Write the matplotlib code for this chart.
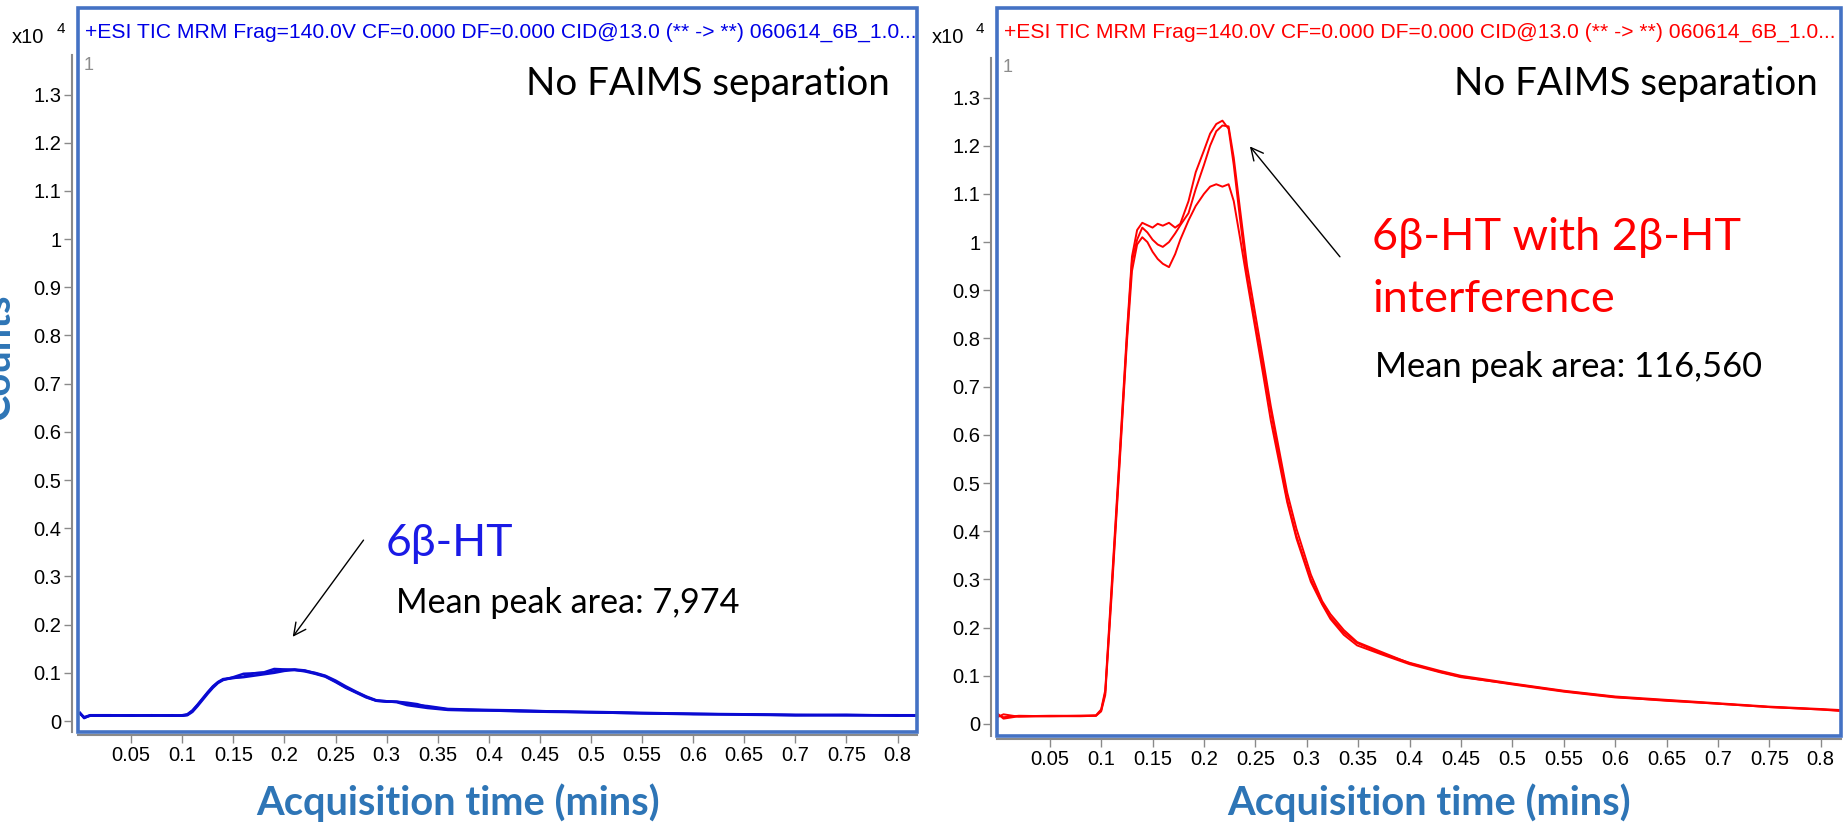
import numpy as np
import matplotlib
matplotlib.use("Agg")
import matplotlib.pyplot as plt
from matplotlib.patches import Rectangle

#####################################################################################################################
# Data (counts x10^4) - three replicate injections each
blue_t = [0.0, 0.004, 0.01, 0.03, 0.05, 0.07, 0.09,
          0.1, 0.105, 0.11, 0.115, 0.12, 0.125, 0.13, 0.135, 0.14,
          0.15, 0.16, 0.17, 0.18, 0.19, 0.2, 0.21, 0.22, 0.23, 0.24, 0.25, 0.26, 0.27, 0.28, 0.29, 0.3,
          0.31, 0.32, 0.33, 0.34,
          0.36, 0.38, 0.4, 0.43, 0.46, 0.5,
          0.55, 0.6, 0.65, 0.7, 0.75, 0.8, 0.818]
blue_a = [0.016, 0.006, 0.012, 0.012, 0.011, 0.012, 0.011,
          0.011, 0.013, 0.021, 0.033, 0.046, 0.059, 0.071, 0.080, 0.086,
          0.089, 0.092, 0.099, 0.101, 0.108, 0.107, 0.106, 0.104, 0.100, 0.094, 0.084, 0.072, 0.061, 0.051, 0.043, 0.041,
          0.040, 0.036, 0.033, 0.031,
          0.025, 0.024, 0.023, 0.022, 0.020, 0.019,
          0.017, 0.015, 0.014, 0.013, 0.012, 0.012, 0.012]
blue_b = [0.017, 0.007, 0.011, 0.011, 0.012, 0.011, 0.012,
          0.011, 0.012, 0.019, 0.031, 0.044, 0.057, 0.069, 0.079, 0.085,
          0.091, 0.098, 0.099, 0.100, 0.103, 0.106, 0.107, 0.105, 0.099, 0.093, 0.082, 0.070, 0.060, 0.050, 0.042, 0.040,
          0.040, 0.038, 0.035, 0.029,
          0.024, 0.023, 0.022, 0.021, 0.020, 0.018,
          0.016, 0.015, 0.013, 0.012, 0.013, 0.011, 0.012]
blue_c = [0.015, 0.008, 0.012, 0.012, 0.011, 0.012, 0.011,
          0.012, 0.014, 0.022, 0.034, 0.047, 0.060, 0.072, 0.081, 0.087,
          0.090, 0.091, 0.094, 0.097, 0.100, 0.104, 0.106, 0.103, 0.098, 0.092, 0.081, 0.069, 0.059, 0.049, 0.042, 0.041,
          0.039, 0.033, 0.030, 0.027,
          0.023, 0.022, 0.022, 0.020, 0.019, 0.018,
          0.016, 0.014, 0.014, 0.012, 0.012, 0.012, 0.011]

red_t = [0.0, 0.005, 0.02, 0.05, 0.08, 0.095,
         0.1, 0.104, 0.11, 0.118, 0.125, 0.13, 0.135, 0.14, 0.145, 0.15,
         0.155, 0.16, 0.166, 0.172, 0.177, 0.185, 0.192, 0.2, 0.206, 0.212,
         0.218, 0.224, 0.229, 0.235, 0.242, 0.25, 0.258, 0.265, 0.273, 0.281,
         0.29, 0.304, 0.315, 0.323, 0.336, 0.349, 0.372, 0.4, 0.43, 0.45,
         0.5, 0.55, 0.6, 0.65, 0.7, 0.75, 0.8, 0.818]
red_a = [0.020, 0.011, 0.016, 0.017, 0.017, 0.018,
         0.030, 0.070, 0.280, 0.560, 0.810, 0.970, 1.025, 1.040, 1.035, 1.030,
         1.038, 1.034, 1.040, 1.030, 1.038, 1.085, 1.145, 1.190, 1.225, 1.245,
         1.252, 1.235, 1.160, 1.050, 0.930, 0.830, 0.735, 0.650, 0.555, 0.465,
         0.390, 0.300, 0.250, 0.222, 0.190, 0.168, 0.147, 0.127, 0.110, 0.100,
         0.084, 0.069, 0.057, 0.050, 0.043, 0.036, 0.031, 0.029]
red_b = [0.015, 0.020, 0.015, 0.016, 0.017, 0.017,
         0.028, 0.065, 0.270, 0.550, 0.800, 0.960, 1.005, 1.030, 1.020, 1.005,
         0.995, 0.990, 1.000, 1.018, 1.035, 1.060, 1.110, 1.160, 1.200, 1.230,
         1.242, 1.240, 1.175, 1.070, 0.950, 0.850, 0.750, 0.660, 0.570, 0.480,
         0.405, 0.310, 0.255, 0.228, 0.195, 0.170, 0.150, 0.126, 0.108, 0.098,
         0.082, 0.067, 0.055, 0.049, 0.042, 0.035, 0.030, 0.028]
red_c = [0.018, 0.014, 0.017, 0.016, 0.016, 0.017,
         0.026, 0.060, 0.260, 0.540, 0.790, 0.940, 0.995, 1.010, 1.000, 0.980,
         0.965, 0.955, 0.948, 0.975, 1.005, 1.045, 1.075, 1.100, 1.115, 1.120,
         1.115, 1.120, 1.085, 1.010, 0.920, 0.820, 0.720, 0.630, 0.545, 0.460,
         0.385, 0.295, 0.248, 0.218, 0.185, 0.163, 0.145, 0.124, 0.107, 0.097,
         0.083, 0.068, 0.056, 0.048, 0.042, 0.035, 0.030, 0.027]

x_ticks = [0.05, 0.1, 0.15, 0.2, 0.25, 0.3, 0.35, 0.4, 0.45, 0.5, 0.55, 0.6, 0.65, 0.7, 0.75, 0.8]
y_ticks = [0, 0.1, 0.2, 0.3, 0.4, 0.5, 0.6, 0.7, 0.8, 0.9, 1, 1.1, 1.2, 1.3]

header = "+ESI TIC MRM Frag=140.0V CF=0.000 DF=0.000 CID@13.0 (** -> **) 060614_6B_1.0..."

#####################################################################################################################
W, H = 1846, 824
fig = plt.figure(figsize=(W / 100, H / 100), dpi=100)

FRAME = '#4472C4'
AXGREY = '#8a8a8a'
LABEL_BLUE = '#2E75B6'
CAL = ['Lato', 'Noto Sans', 'DejaVu Sans']
ARIAL = ['Liberation Sans', 'DejaVu Sans']


def fx(px):
    return px / W


def fy(py):
    return 1 - py / H


def make_panel(x0, x1, frame_top, y0, y1, xlim, ylim):
    # axes = plot window, frame = blue box (also holds the header line)
    ax = fig.add_axes([fx(x0), fy(y1), (x1 - x0) / W, (y1 - y0) / H])
    ax.set_xlim(*xlim)
    ax.set_ylim(*ylim)
    ax.patch.set_alpha(0)
    for s in ['top', 'right']:
        ax.spines[s].set_visible(False)
    ax.spines['left'].set_position(('outward', 4))
    ax.spines['bottom'].set_position(('outward', 2))
    for s in ['left', 'bottom']:
        ax.spines[s].set_color(AXGREY)
        ax.spines[s].set_linewidth(1.5)
    ax.set_xticks(x_ticks)
    ax.set_xticklabels(['%g' % v for v in x_ticks])
    ax.set_yticks(y_ticks)
    ax.set_yticklabels(['%g' % v for v in y_ticks])
    ax.tick_params(direction='out', length=6, width=1, color=AXGREY, labelsize=14.5, pad=2)
    for lab in ax.get_xticklabels() + ax.get_yticklabels():
        lab.set_family(ARIAL)
    fig.add_artist(Rectangle((fx(x0), fy(y1)), (x1 - x0) / W, (y1 - frame_top) / H, transform=fig.transFigure,
                             fill=False, edgecolor=FRAME, linewidth=2.6, zorder=10))
    return ax


#####################################################################################################################
# Left panel: 6b-HT only
ax1 = make_panel(78, 917, 8, 55, 732, (-0.002, 0.819), (-0.0228, 1.382))
for y in [blue_a, blue_b, blue_c]:
    ax1.plot(blue_t, y, color='#0a0ad2', linewidth=1.8, solid_joinstyle='round')

fig.text(fx(85), fy(32), header, color='#0000e6', fontsize=15.2, family=ARIAL, va='center', ha='left')
fig.text(fx(84), fy(66), '1', color='#8c8c8c', fontsize=13, family=ARIAL, va='center', ha='left')
fig.text(fx(12), fy(43), 'x10', color='black', fontsize=14.5, family=ARIAL, va='baseline', ha='left')
fig.text(fx(57), fy(33), '4', color='black', fontsize=11, family=ARIAL, va='baseline', ha='left')

ax1.text(0.792, 1.299, 'No FAIMS separation', fontsize=27.7, family=CAL, ha='right', va='baseline')
ax1.text(0.299, 0.342, '6\u03b2-HT', fontsize=32, color='#1a1ae6', family=CAL, ha='left', va='baseline')
ax1.text(0.309, 0.224, 'Mean peak area: 7,974', fontsize=24.6, family=CAL, ha='left', va='baseline')
ax1.annotate('', xy=(0.2065, 0.17), xytext=(0.279, 0.38),
             arrowprops=dict(arrowstyle='->', color='black', lw=1.0, mutation_scale=22))

#####################################################################################################################
# Right panel: 6b-HT with 2b-HT interference
ax2 = make_panel(997, 1841, 8, 58, 736, (-0.0013, 0.8197), (-0.025, 1.382))
for y in [red_a, red_b, red_c]:
    ax2.plot(red_t, y, color='#ff0000', linewidth=1.4, solid_joinstyle='round')

fig.text(fx(1004), fy(32), header, color='#ff0000', fontsize=15.2, family=ARIAL, va='center', ha='left')
fig.text(fx(1003), fy(68), '1', color='#8c8c8c', fontsize=13, family=ARIAL, va='center', ha='left')
fig.text(fx(932), fy(43), 'x10', color='black', fontsize=14.5, family=ARIAL, va='baseline', ha='left')
fig.text(fx(976), fy(33), '4', color='black', fontsize=11, family=ARIAL, va='baseline', ha='left')

ax2.text(0.797, 1.305, 'No FAIMS separation', fontsize=27.7, family=CAL, ha='right', va='baseline')
ax2.text(0.3635, 0.983, '6\u03b2-HT with 2\u03b2-HT', fontsize=32.5, color='#ff0000', family=CAL,
         ha='left', va='baseline')
ax2.text(0.3635, 0.855, 'interference', fontsize=32.5, color='#ff0000', family=CAL, ha='left', va='baseline')
ax2.text(0.366, 0.72, 'Mean peak area: 116,560', fontsize=24.8, family=CAL, ha='left', va='baseline')
ax2.annotate('', xy=(0.243, 1.203), xytext=(0.334, 0.965),
             arrowprops=dict(arrowstyle='->', color='black', lw=1.0, mutation_scale=22))

#####################################################################################################################
# Axis titles (slide text, partly cut off at the edges)
fig.text(fx(458), fy(815), 'Acquisition time (mins)', color=LABEL_BLUE, fontsize=28.7, fontweight='bold',
         family=CAL, ha='center', va='baseline')
fig.text(fx(1429), fy(815), 'Acquisition time (mins)', color=LABEL_BLUE, fontsize=28.7, fontweight='bold',
         family=CAL, ha='center', va='baseline')
fig.text(fx(17), fy(357), 'Counts', color=LABEL_BLUE, fontsize=28.7, fontweight='bold', family=CAL,
         rotation=90, ha='right', va='center')

fig.savefig('out.png', dpi=100)
